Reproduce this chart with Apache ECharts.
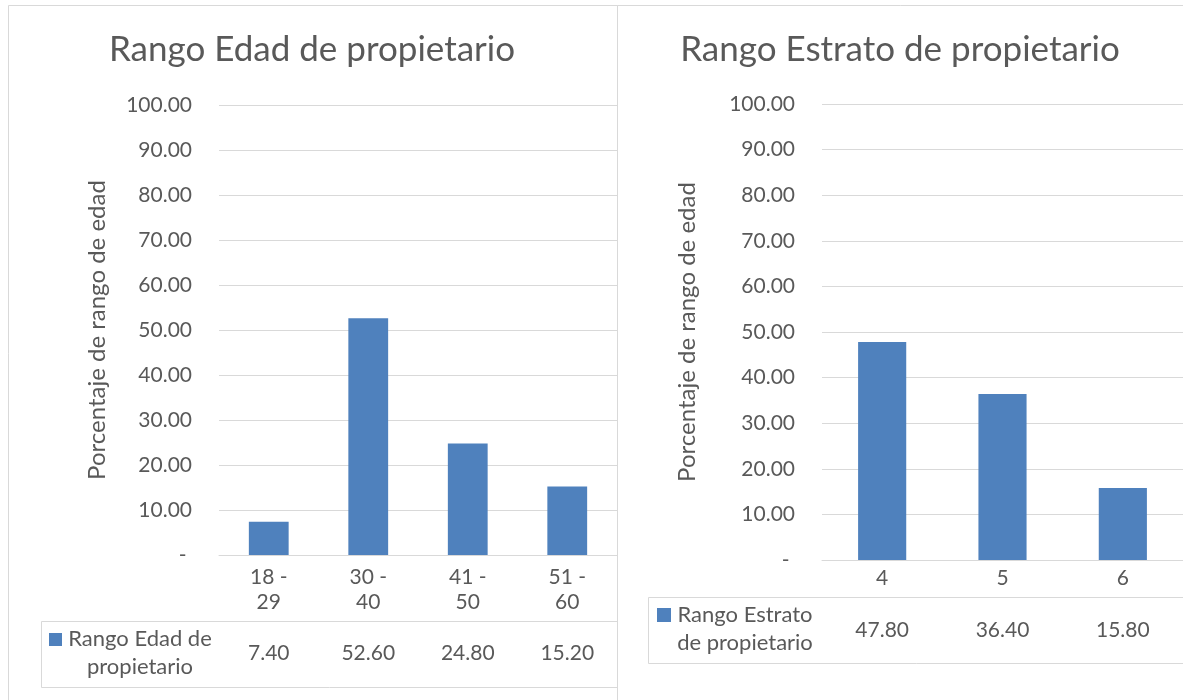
<!DOCTYPE html>
<html>
<head>
<meta charset="utf-8">
<script src="https://cdn.jsdelivr.net/npm/echarts@6/dist/echarts.min.js"></script>
<style>
  html, body { margin: 0; padding: 0; background: #ffffff; }
  #main { width: 1183px; height: 700px; }
</style>
</head>
<body>
<div id="main"></div>
<script>
// Age ranges of owners (percent)
const ageTitle = 'Rango Edad de propietario';
const ageCategories = ['18 -\n29', '30 -\n40', '41 -\n50', '51 -\n60'];
const ageValues = [7.40, 52.60, 24.80, 15.20];

// Socio-economic stratum of owners (percent)
const strataTitle = 'Rango Estrato de propietario';
const strataCategories = ['4', '5', '6'];
const strataValues = [47.80, 36.40, 15.80];

const yAxisName = 'Porcentaje de rango de edad';
const yMin = 0, yMax = 100, yStep = 10;

const TXT = '#595959';
const LINE = '#d9d9d9';
const BAR = '#4f81bd';
const FONT = 'Lato, "Open Sans", sans-serif';
const NUM_SIZE = 21;

const fmt = v => v.toFixed(2);
const tickFmt = v => (v === 0 ? '- ' : v.toFixed(2));

const chart = echarts.init(document.getElementById('main'));

function valueAxis(gridIndex, gap) {
  return {
    gridIndex, type: 'value', min: yMin, max: yMax, interval: yStep,
    axisLine: { show: false }, axisTick: { show: false },
    splitLine: { lineStyle: { color: LINE, width: 1 } },
    axisLabel: { formatter: tickFmt, color: TXT, fontSize: NUM_SIZE, fontFamily: FONT, margin: 27 },
    name: yAxisName, nameLocation: 'middle', nameGap: gap,
    nameTextStyle: { color: TXT, fontSize: 24, fontFamily: FONT }
  };
}

function headerAxis(gridIndex, data, tickLen, margin) {
  return {
    gridIndex, type: 'category', data, position: 'bottom',
    axisLine: { lineStyle: { color: LINE } },
    axisTick: { length: tickLen, lineStyle: { color: LINE } },
    axisLabel: { interval: 0, color: TXT, fontSize: NUM_SIZE, fontFamily: FONT, lineHeight: 25, margin }
  };
}

function valueRowAxis(gridIndex, values, offset, margin) {
  return {
    gridIndex, type: 'category', data: values.map(fmt), position: 'bottom', offset,
    axisLine: { lineStyle: { color: LINE } },
    axisTick: { show: false },
    axisLabel: { interval: 0, color: TXT, fontSize: NUM_SIZE, fontFamily: FONT, lineHeight: 24, margin }
  };
}

const option = {
  backgroundColor: '#ffffff',
  animation: false,
  textStyle: { fontFamily: FONT },
  title: [
    { text: ageTitle, left: 312, top: 32, textAlign: 'center', padding: 0,
      textStyle: { fontSize: 35, fontWeight: 'normal', color: TXT, fontFamily: FONT } },
    { text: strataTitle, left: 900, top: 32, textAlign: 'center', padding: 0,
      textStyle: { fontSize: 35, fontWeight: 'normal', color: TXT, fontFamily: FONT } }
  ],
  grid: [
    { left: 219, top: 105, width: 398, height: 450 },
    { left: 822, top: 104, width: 363, height: 456 }
  ],
  xAxis: [
    headerAxis(0, ageCategories, 132, 10),
    valueRowAxis(0, ageValues, 66, 20),
    headerAxis(1, strataCategories, 103, 6),
    valueRowAxis(1, strataValues, 37, 21)
  ],
  yAxis: [valueAxis(0, 110), valueAxis(1, 123)],
  series: [
    { name: ageTitle, type: 'bar', xAxisIndex: 0, yAxisIndex: 0, data: ageValues,
      barWidth: '40%', itemStyle: { color: BAR } },
    { name: strataTitle, type: 'bar', xAxisIndex: 2, yAxisIndex: 1, data: strataValues,
      barWidth: '40%', itemStyle: { color: BAR } }
  ],
  graphic: [
    // panel frames
    { type: 'rect', silent: true, shape: { x: 8.5, y: 5.5, width: 609, height: 720 },
      style: { fill: 'none', stroke: LINE, lineWidth: 1 } },
    { type: 'polyline', silent: true, shape: { points: [[617.5, 720], [617.5, 5.5], [1190, 5.5]] },
      style: { fill: 'none', stroke: LINE, lineWidth: 1 } },
    // data-table value rows
    { type: 'rect', silent: true, shape: { x: 41.5, y: 621.5, width: 576, height: 66 },
      style: { fill: 'none', stroke: LINE, lineWidth: 1 } },
    { type: 'rect', silent: true, shape: { x: 648.5, y: 597.5, width: 540, height: 66 },
      style: { fill: 'none', stroke: LINE, lineWidth: 1 } },
    // legend keys in the tables
    { type: 'rect', silent: true, shape: { x: 49, y: 633, width: 13, height: 13 }, style: { fill: BAR } },
    { type: 'text', silent: true, x: 140, y: 625,
      style: { text: 'Rango Edad de\npropietario', fill: TXT, font: '22px ' + FONT,
               align: 'center', verticalAlign: 'top', lineHeight: 28 } },
    { type: 'rect', silent: true, shape: { x: 657, y: 608, width: 14, height: 14 }, style: { fill: BAR } },
    { type: 'text', silent: true, x: 745, y: 601,
      style: { text: 'Rango Estrato\nde propietario', fill: TXT, font: '22px ' + FONT,
               align: 'center', verticalAlign: 'top', lineHeight: 28 } }
  ]
};

chart.setOption(option);
</script>
</body>
</html>
